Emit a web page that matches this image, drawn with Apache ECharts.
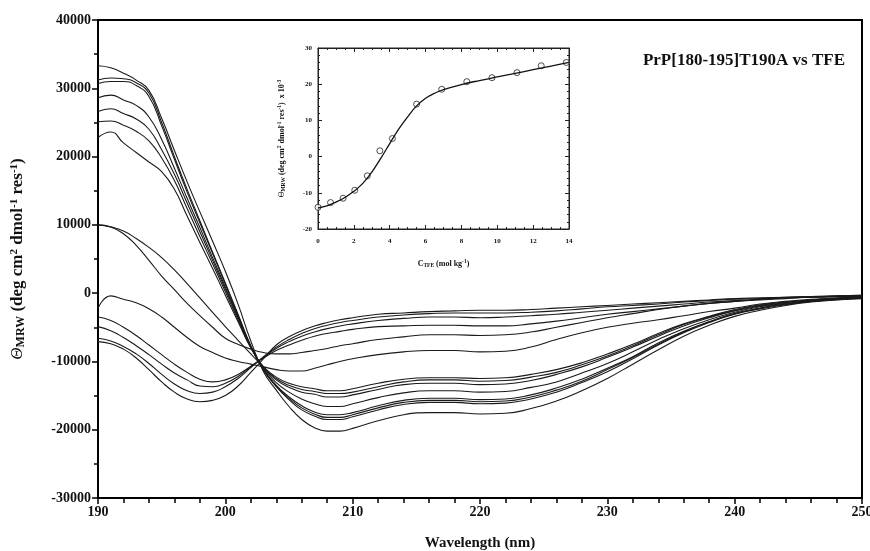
<!DOCTYPE html>
<html>
<head>
<meta charset="utf-8">
<script src="https://cdn.jsdelivr.net/npm/echarts@6/dist/echarts.min.js"></script>
<style>html,body{margin:0;padding:0;background:#fff}#c{width:870px;height:551px}</style>
</head>
<body>
<div id="c"></div>
<script>
// Wavelengths (nm)
const wavelengths = [190,191,192,193,194,195,196,197,198,199,200,201,202,203,204,205,206,207,208,209,210,212,214,216,218,220,222,224,226,228,230,232,234,236,238,240,242,244,246,248,250];

// Helical-rich spectra (high TFE)
const h1 = [33300,33000,32200,31200,29700,25600,20900,16300,11900,7600,3200,-1600,-7000,-11500,-14200,-16600,-18500,-19700,-20200,-20200,-19800,-18700,-17800,-17500,-17500,-17700,-17600,-16900,-15800,-14300,-12500,-10400,-8300,-6300,-4700,-3400,-2500,-1800,-1300,-1000,-800];
const h2 = [31200,31500,31400,30800,29300,25000,20000,15200,10600,6000,1500,-3100,-7700,-11300,-13700,-15600,-17100,-18000,-18500,-18500,-18100,-17100,-16300,-16000,-16000,-16200,-16100,-15500,-14500,-13100,-11500,-9600,-7600,-5800,-4300,-3100,-2300,-1700,-1200,-950,-750];
const h3 = [30700,31000,31000,30400,28800,24500,19600,14800,10300,5800,1300,-3300,-7800,-11200,-13600,-15400,-16800,-17700,-18200,-18200,-17800,-16800,-16000,-15700,-15700,-15900,-15800,-15200,-14200,-12900,-11200,-9400,-7500,-5700,-4200,-3000,-2200,-1600,-1200,-900,-700];
const h4 = [28600,29000,28300,27500,25800,22500,18300,13900,9600,5200,900,-3500,-7800,-11200,-13500,-15200,-16500,-17400,-17800,-17800,-17500,-16500,-15700,-15400,-15400,-15600,-15500,-14900,-13900,-12600,-11000,-9300,-7300,-5600,-4200,-3000,-2200,-1600,-1200,-900,-700];
const h5 = [26600,27000,26300,25500,24000,21000,17400,13200,9000,4800,600,-3600,-7900,-11000,-13100,-14500,-15500,-16200,-16600,-16600,-16200,-15300,-14600,-14300,-14300,-14500,-14400,-13800,-13000,-11700,-10300,-8600,-6800,-5200,-3900,-2800,-2000,-1500,-1100,-850,-650];
const h6 = [25100,25200,24600,23700,22300,19800,16500,12400,8300,4300,200,-3900,-8000,-10900,-12700,-13800,-14500,-14800,-15200,-15200,-14900,-14100,-13400,-13200,-13200,-13400,-13300,-12800,-11900,-10800,-9400,-7900,-6300,-4800,-3600,-2600,-1900,-1400,-1000,-800,-600];
const h7 = [22800,23600,22000,20600,19200,17800,15200,11300,7400,3600,-300,-4200,-8000,-10800,-12500,-13500,-14100,-14400,-14700,-14700,-14500,-13700,-13000,-12700,-12700,-12900,-12800,-12300,-11600,-10500,-9200,-7700,-6100,-4600,-3500,-2500,-1800,-1300,-1000,-800,-600];
// Intermediate spectra
const ib = [10000,9700,9100,8000,6700,5200,3400,1400,-700,-2800,-4900,-6900,-8900,-10800,-12300,-13200,-13700,-14000,-14300,-14300,-14000,-13200,-12600,-12400,-12400,-12500,-12400,-11900,-11200,-10200,-8900,-7500,-5900,-4500,-3400,-2400,-1700,-1300,-1000,-750,-550];
const ia = [10000,9700,8700,7000,4800,2500,500,-1500,-3300,-5000,-6600,-7500,-8200,-8700,-8900,-8900,-8700,-8400,-8100,-7700,-7400,-6800,-6400,-6100,-6100,-6200,-6100,-5700,-5000,-4300,-3600,-3000,-2400,-1900,-1500,-1200,-900,-700,-600,-500,-400];
const c1 = [-2200,-400,-900,-1400,-2300,-3500,-5000,-6500,-7800,-8700,-9500,-10000,-10400,-10800,-11200,-11400,-11400,-11000,-10500,-10000,-9600,-9000,-8600,-8400,-8400,-8600,-8500,-7900,-6800,-5800,-5000,-4400,-3900,-3300,-2700,-2200,-1600,-1200,-900,-700,-500];
// Random-coil spectra (low TFE)
const k1 = [-3500,-4000,-5000,-6200,-7600,-9000,-10400,-11600,-12600,-13000,-12700,-11900,-10700,-9500,-8400,-7600,-6900,-6300,-5900,-5600,-5300,-4900,-4800,-4700,-4700,-4800,-4800,-4500,-4100,-3600,-3100,-2700,-2300,-1900,-1500,-1200,-1000,-800,-600,-500,-400];
const k2 = [-4900,-5500,-6500,-7700,-9000,-10400,-11700,-12700,-13600,-13700,-13200,-12200,-10800,-9400,-8100,-7100,-6300,-5700,-5200,-4800,-4500,-4000,-3700,-3500,-3500,-3600,-3500,-3300,-3100,-2800,-2500,-2200,-1900,-1600,-1300,-1100,-900,-700,-600,-500,-400];
const k3 = [-6600,-7000,-7800,-8900,-10300,-11900,-13300,-14300,-14700,-14500,-13700,-12500,-10900,-9300,-7900,-6800,-5900,-5200,-4700,-4300,-4000,-3500,-3200,-3000,-2900,-2900,-2900,-2800,-2600,-2300,-2000,-1800,-1600,-1300,-1100,-900,-800,-600,-500,-400,-300];
const k4 = [-7100,-7400,-8200,-9500,-11200,-13000,-14500,-15500,-15900,-15700,-15000,-13600,-11600,-9600,-7600,-6400,-5500,-4800,-4300,-3900,-3600,-3100,-2900,-2700,-2600,-2500,-2500,-2400,-2200,-2000,-1800,-1600,-1400,-1200,-1000,-800,-700,-600,-500,-400,-300];

const spectra = [h1,h2,h3,h4,h5,h6,h7,ib,ia,c1,k1,k2,k3,k4];

// Inset: measured points and fitted curve
const insetConc = [0,0.7,1.4,2.05,2.75,3.45,4.15,5.5,6.9,8.3,9.7,11.1,12.45,13.85];
const insetTheta = [-14.0,-12.7,-11.5,-9.3,-5.3,1.6,5.0,14.5,18.6,20.7,21.8,23.2,25.1,26.0];
const fitConc = [0,0.5,1,1.5,2,2.5,3,3.5,4,4.5,5,5.5,6,6.5,7,8,9,10,11,12,13,14];
const fitTheta = [-14.2,-13.6,-12.6,-11.3,-9.6,-7.4,-4.3,-0.5,3.6,7.6,11.0,14.0,16.1,17.5,18.5,19.9,21.0,22.0,23.0,24.0,25.0,26.0];

const titleText = 'PrP[180-195]T190A vs TFE';

const serif = "'Liberation Serif','Times New Roman',serif";
const chart = echarts.init(document.getElementById('c'), null, {renderer: 'canvas'});

const series = spectra.map(function (arr) {
  return {
    type: 'line', xAxisIndex: 0, yAxisIndex: 0,
    data: arr.map(function (v, i) { return [wavelengths[i], v]; }),
    showSymbol: false, smooth: 0.5, silent: true,
    lineStyle: {color: '#1a1a1a', width: 1.1}
  };
});
series.push({
  type: 'line', xAxisIndex: 1, yAxisIndex: 1,
  data: fitConc.map(function (x, i) { return [x, fitTheta[i]]; }),
  showSymbol: false, smooth: 0.4, lineStyle: {color: '#111', width: 1.3}
});
series.push({
  type: 'scatter', xAxisIndex: 1, yAxisIndex: 1,
  data: insetConc.map(function (x, i) { return [x, insetTheta[i]]; }),
  symbol: 'circle', symbolSize: 6,
  itemStyle: {color: '#fff', borderColor: '#222', borderWidth: 1}
});

const richBig = {
  t: {fontFamily: serif, fontWeight: 'bold', fontSize: 17, color: '#111'},
  th: {fontFamily: serif, fontStyle: 'italic', fontSize: 17, color: '#111'},
  sub: {fontFamily: serif, fontWeight: 'bold', fontSize: 12, color: '#111', verticalAlign: 'bottom', padding: [5, 0, 0, 0]},
  sup: {fontFamily: serif, fontWeight: 'bold', fontSize: 11, color: '#111', verticalAlign: 'top', padding: [0, 0, 7, 0]}
};
const richSmall = {
  t: {fontFamily: serif, fontWeight: 'bold', fontSize: 8, color: '#111'},
  th: {fontFamily: serif, fontSize: 8, color: '#111'},
  sub: {fontFamily: serif, fontWeight: 'bold', fontSize: 5.5, color: '#111', verticalAlign: 'bottom', padding: [3, 0, 0, 0]},
  sup: {fontFamily: serif, fontWeight: 'bold', fontSize: 5.5, color: '#111', verticalAlign: 'top', padding: [0, 0, 4, 0]}
};
const plain = function (v) { return String(v); };

chart.setOption({
  animation: false,
  backgroundColor: '#fff',
  title: {text: titleText, right: 20, top: 47, textStyle: {fontFamily: serif, fontWeight: 'bold', fontSize: 17, color: '#111'}},
  grid: [
    {left: 98, right: 8, top: 20, bottom: 53, show: true, borderColor: '#000', borderWidth: 2, containLabel: false, outerBoundsMode: 'none'},
    {left: 318, top: 48, width: 251, height: 181, show: true, borderColor: '#222', borderWidth: 1, containLabel: false, outerBoundsMode: 'none'}
  ],
  xAxis: [
    {type: 'value', gridIndex: 0, min: 190, max: 250, interval: 10,
     name: 'Wavelength (nm)', nameLocation: 'middle', nameGap: 38,
     nameTextStyle: {fontFamily: serif, fontWeight: 'bold', fontSize: 15, color: '#111'},
     axisLine: {onZero: false, lineStyle: {color: '#000', width: 2}},
     axisTick: {length: 6, lineStyle: {color: '#000', width: 1.5}},
     minorTick: {show: true, splitNumber: 5, length: 5, lineStyle: {color: '#000', width: 1.5}},
     axisLabel: {fontFamily: serif, fontWeight: 'bold', fontSize: 14, color: '#111', margin: 7, formatter: plain},
     splitLine: {show: false}},
    {type: 'value', gridIndex: 1, min: 0, max: 14, interval: 2,
     name: '{t|C}{sub|TFE}{t| (mol kg}{sup|-1}{t|)}', nameLocation: 'middle', nameGap: 30,
     nameTextStyle: {rich: richSmall},
     axisLine: {onZero: false, lineStyle: {color: '#222', width: 1}},
     axisTick: {inside: true, length: 4, lineStyle: {color: '#222'}},
     minorTick: {show: true, splitNumber: 4, length: 2, lineStyle: {color: '#222'}},
     axisLabel: {fontFamily: serif, fontWeight: 'bold', fontSize: 7, color: '#111', margin: 9, formatter: plain},
     splitLine: {show: false}},
    {type: 'value', gridIndex: 1, min: 0, max: 14, interval: 2, position: 'top',
     axisLine: {onZero: false, lineStyle: {color: '#222', width: 1}},
     axisTick: {inside: true, length: 4, lineStyle: {color: '#222'}},
     minorTick: {show: true, splitNumber: 4, length: 2, lineStyle: {color: '#222'}},
     axisLabel: {show: false}, splitLine: {show: false}}
  ],
  yAxis: [
    {type: 'value', gridIndex: 0, min: -30000, max: 40000, interval: 10000,
     name: '{th|Θ}{sub|MRW}{t| (deg cm}{sup|2}{t| dmol}{sup|-1}{t| res}{sup|-1}{t|)}',
     nameLocation: 'middle', nameGap: 71, nameRotate: 90,
     nameTextStyle: {rich: richBig},
     axisLine: {onZero: false, lineStyle: {color: '#000', width: 2}},
     axisTick: {length: 6, lineStyle: {color: '#000', width: 1.5}},
     minorTick: {show: true, splitNumber: 2, length: 4, lineStyle: {color: '#000', width: 1.5}},
     axisLabel: {fontFamily: serif, fontWeight: 'bold', fontSize: 14, color: '#111', margin: 7, formatter: plain},
     splitLine: {show: false}},
    {type: 'value', gridIndex: 1, min: -20, max: 30, interval: 10,
     name: '{th|Θ}{sub|MRW}{t| (deg cm}{sup|2}{t| dmol}{sup|-1}{t| res}{sup|-1}{t|)  x 10}{sup|-3}',
     nameLocation: 'middle', nameGap: 31, nameRotate: 90,
     nameTextStyle: {rich: richSmall},
     axisLine: {onZero: false, lineStyle: {color: '#222', width: 1}},
     axisTick: {inside: true, length: 4, lineStyle: {color: '#222'}},
     minorTick: {show: true, splitNumber: 5, length: 2, lineStyle: {color: '#222'}},
     axisLabel: {fontFamily: serif, fontWeight: 'bold', fontSize: 7, color: '#111', margin: 6, formatter: plain},
     splitLine: {show: false}},
    {type: 'value', gridIndex: 1, min: -20, max: 30, interval: 10, position: 'right',
     axisLine: {onZero: false, lineStyle: {color: '#222', width: 1}},
     axisTick: {inside: true, length: 4, lineStyle: {color: '#222'}},
     minorTick: {show: true, splitNumber: 5, length: 2, lineStyle: {color: '#222'}},
     axisLabel: {show: false}, splitLine: {show: false}}
  ],
  series: series
});
</script>
</body>
</html>
